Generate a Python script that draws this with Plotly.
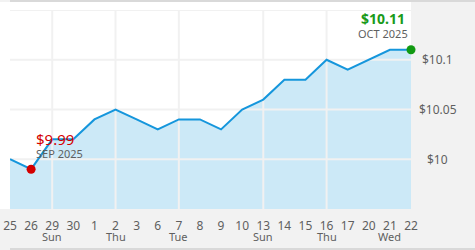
import plotly.graph_objects as go

# ---- data ----
day_labels = ["25", "26", "29", "30", "1", "2", "3", "6", "7", "8", "9", "10",
              "13", "14", "15", "16", "17", "20", "21", "22"]
prices = [10.00, 9.99, 10.02, 10.02, 10.04, 10.05, 10.04, 10.03, 10.04, 10.04,
          10.03, 10.05, 10.06, 10.08, 10.08, 10.10, 10.09, 10.10, 10.11, 10.11]
weekday_labels = {"29": "Sun", "2": "Thu", "7": "Tue", "13": "Sun", "16": "Thu", "21": "Wed"}
vgrid_labels = ["29", "2", "7", "13", "16"]
y_ticks = [10.00, 10.05, 10.10, 10.15]
y_tick_text = ["$10", "$10.05", "$10.1", ""]
y_range = [9.95, 10.15]
low_label = ("$9.99", "SEP 2025")
high_label = ("$10.11", "OCT 2025")

FONT = "Noto Sans"
LINE = "#1596dc"
FILL = "#cce9f7"
GRID = "#f1f1f1"
TXT = "#5f5f5f"

xs = list(range(len(day_labels)))
i_low = prices.index(min(prices))
i_last = len(prices) - 1

fig = go.Figure()

# fill
fig.add_trace(go.Scatter(x=xs, y=prices, mode="lines", fill="tozeroy",
                         fillcolor=FILL, line=dict(width=0, color=FILL),
                         hoverinfo="skip", showlegend=False))

# gridlines drawn above the fill
gx, gy = [], []
for lab in vgrid_labels:
    i = day_labels.index(lab)
    gx += [i, i, None]
    gy += [y_range[0], y_range[1], None]
for v in y_ticks:
    gx += [xs[0], xs[-1], None]
    gy += [v, v, None]
fig.add_trace(go.Scatter(x=gx, y=gy, mode="lines", line=dict(color=GRID, width=2),
                         hoverinfo="skip", showlegend=False, cliponaxis=False))

# price line
fig.add_trace(go.Scatter(x=xs, y=prices, mode="lines", line=dict(color=LINE, width=2),
                         hoverinfo="skip", showlegend=False))

# markers
fig.add_trace(go.Scatter(x=[xs[i_low]], y=[prices[i_low]], mode="markers",
                         marker=dict(color="#d40000", size=9), cliponaxis=False,
                         hoverinfo="skip", showlegend=False))
fig.add_trace(go.Scatter(x=[xs[i_last]], y=[prices[i_last]], mode="markers",
                         marker=dict(color="#129a12", size=9), cliponaxis=False,
                         hoverinfo="skip", showlegend=False))

ann = []
# high/low labels
ann.append(dict(x=xs[i_last], y=prices[i_last], xref="x", yref="y",
                text="<b>" + high_label[0] + "</b>",
                showarrow=False, xanchor="right", yanchor="middle", xshift=-4, yshift=31,
                font=dict(family=FONT, size=14, color="#1a9a1a")))
ann.append(dict(x=xs[i_last], y=prices[i_last], xref="x", yref="y", text=high_label[1],
                showarrow=False, xanchor="right", yanchor="middle", xshift=-1, yshift=16,
                font=dict(family=FONT, size=11, color=TXT)))
ann.append(dict(x=xs[i_low], y=prices[i_low], xref="x", yref="y", text=low_label[0],
                showarrow=False, xanchor="left", yanchor="middle", xshift=3, yshift=30,
                font=dict(family=FONT, size=15, color="#d40000")))
ann.append(dict(x=xs[i_low], y=prices[i_low], xref="x", yref="y", text=low_label[1],
                showarrow=False, xanchor="left", yanchor="middle", xshift=3, yshift=16,
                font=dict(family=FONT, size=11, color=TXT)))

# y tick labels (centered, right side)
for v, t in zip(y_ticks, y_tick_text):
    if t:
        ann.append(dict(x=(438 - 10) / 401, y=v, xref="paper", yref="y", text=t,
                        showarrow=False, xanchor="center", yanchor="middle",
                        font=dict(family=FONT, size=12, color=TXT)))

# weekday labels under day numbers
for lab, wd in weekday_labels.items():
    ann.append(dict(x=day_labels.index(lab), y=-(236 - 209) / 199, xref="x", yref="paper",
                    text=wd, showarrow=False, xanchor="center", yanchor="middle",
                    font=dict(family=FONT, size=11, color=TXT)))

shapes = [
    # white area at left/top
    dict(type="rect", xref="paper", yref="paper", x0=-10 / 401, x1=1, y0=0, y1=1 + 8 / 199,
         fillcolor="white", line=dict(width=0), layer="below"),
    # top bar
    dict(type="rect", xref="paper", yref="paper", x0=0, x1=465 / 401,
         y0=1 + 8 / 199, y1=1 + 10 / 199, fillcolor="#d9d9d9", line=dict(width=0), layer="below"),
    # bottom bar
    dict(type="rect", xref="paper", yref="paper", x0=0, x1=465 / 401,
         y0=-(250 - 209) / 199, y1=-(248 - 209) / 199, fillcolor="#d9d9d9",
         line=dict(width=0), layer="below"),
]

fig.update_layout(
    width=475, height=250,
    margin=dict(l=10, r=64, t=10, b=41, autoexpand=False),
    paper_bgcolor="#f2f2f2", plot_bgcolor="white",
    annotations=ann, shapes=shapes,
    hovermode=False,
    xaxis=dict(range=[xs[0], xs[-1]], tickvals=xs, ticktext=day_labels,
               showgrid=False, zeroline=False, showline=False, ticks="",
               tickfont=dict(family=FONT, size=12, color=TXT), ticklabelstandoff=8,
               automargin=False, fixedrange=True),
    yaxis=dict(range=y_range, showgrid=False, zeroline=False, showline=False,
               showticklabels=False, ticks="", automargin=False, fixedrange=True),
)

fig.write_html("out.html", config={"displayModeBar": False})
